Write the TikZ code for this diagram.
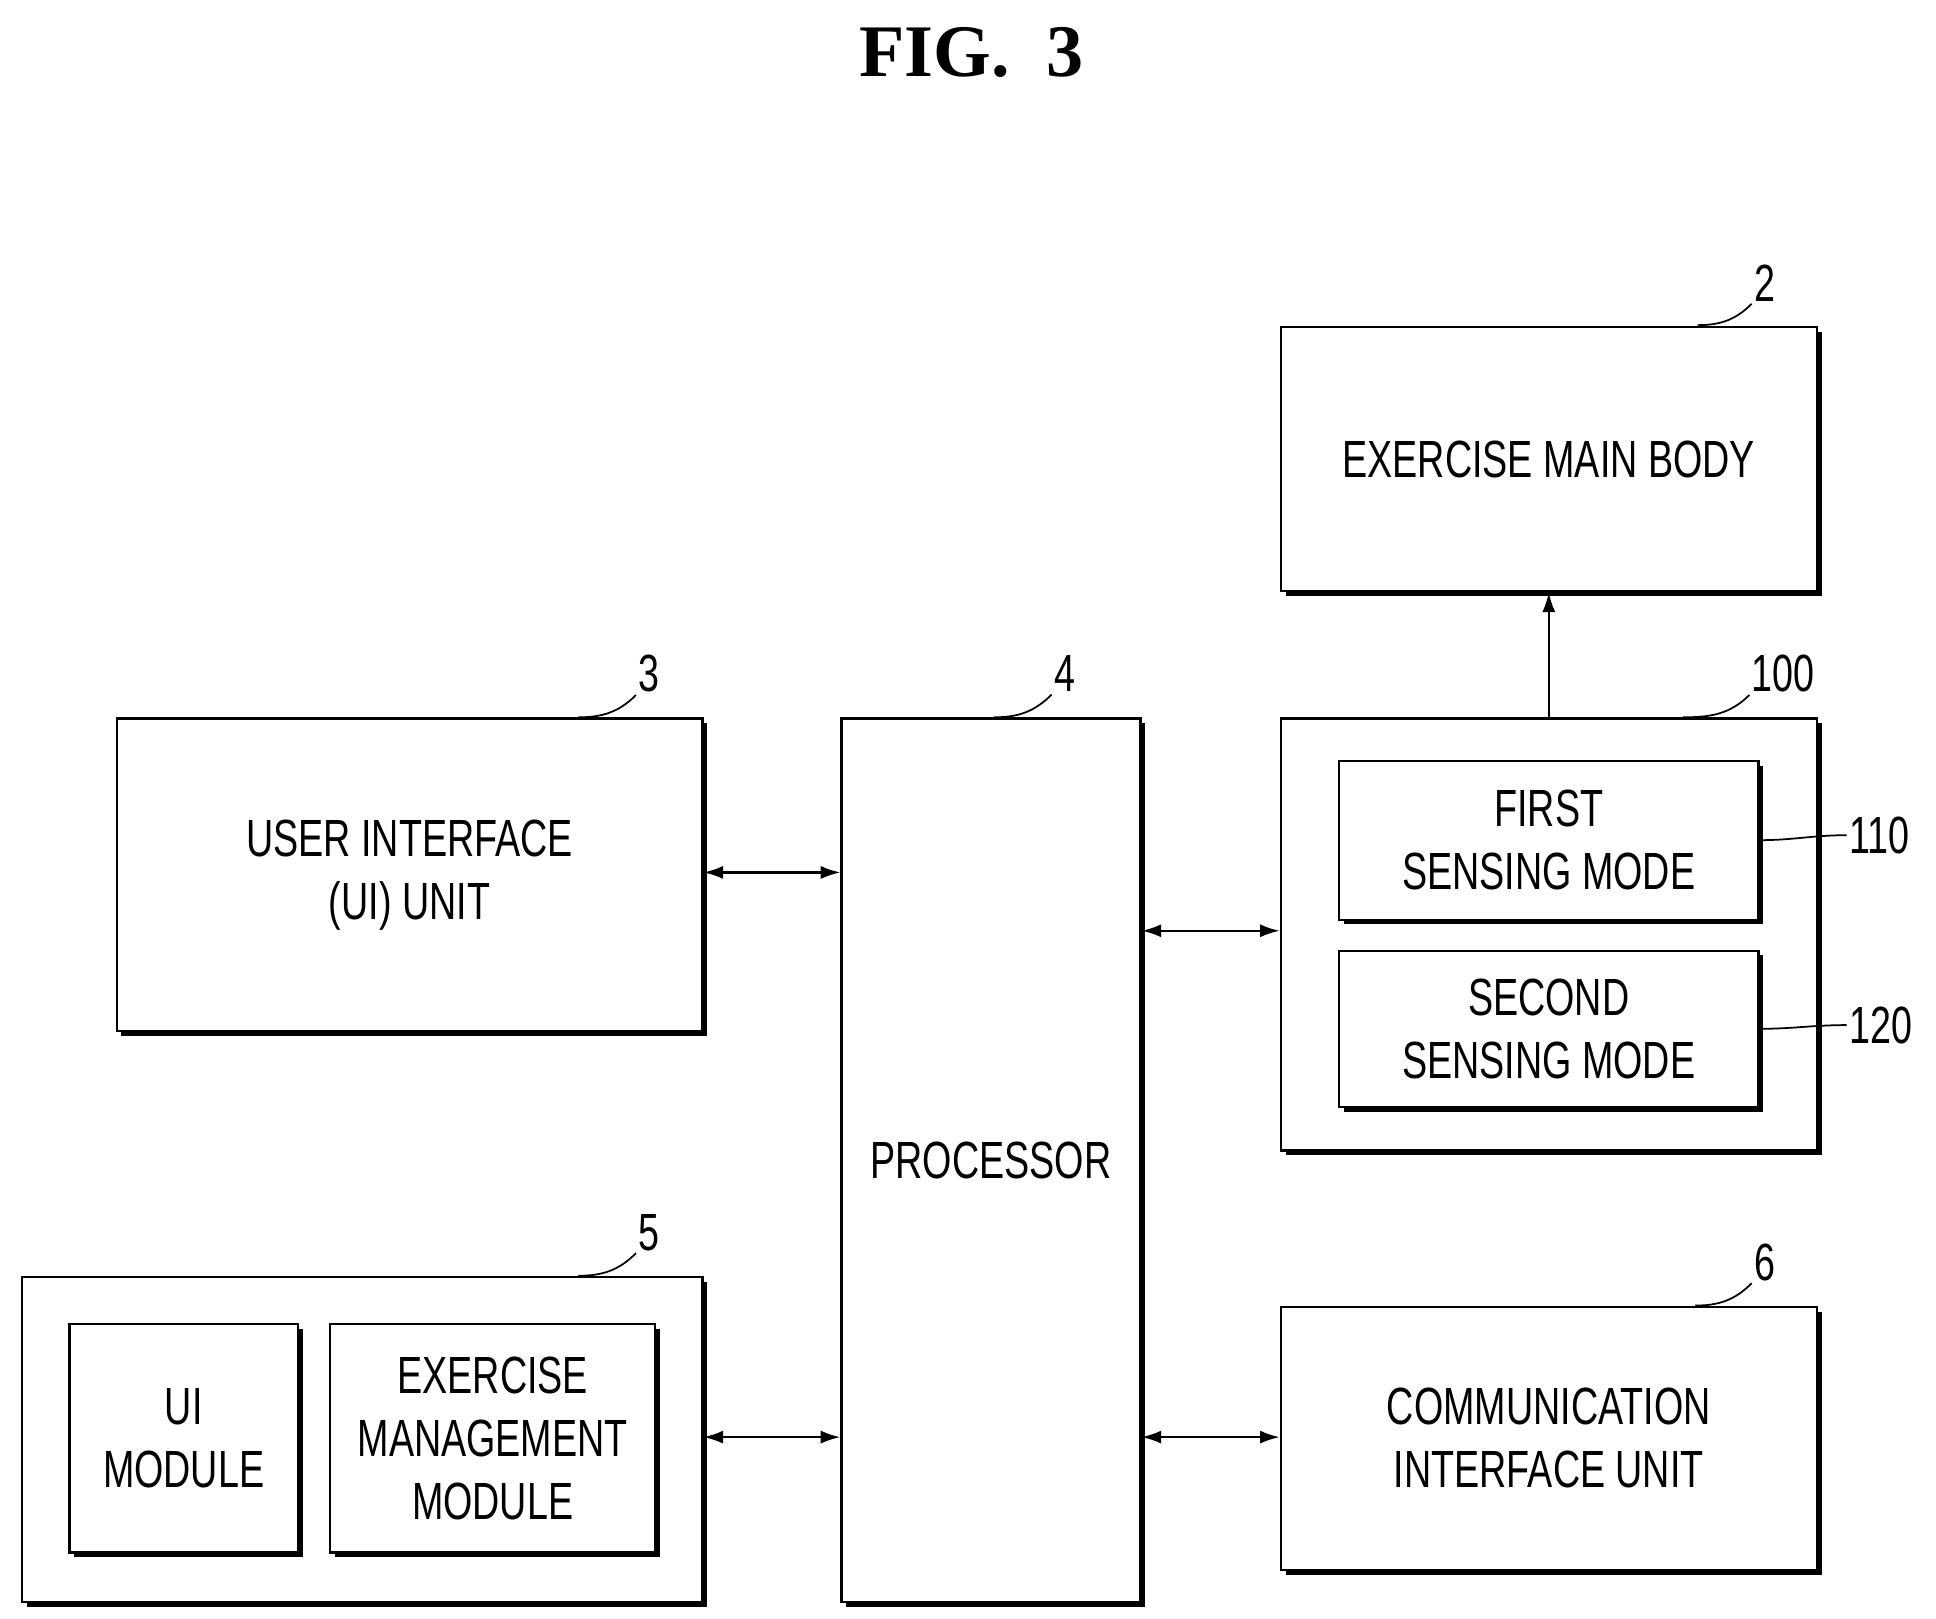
\documentclass[tikz,border=0pt]{standalone}
\usepackage{fontspec}
\setmainfont{Liberation Serif}
\setsansfont[FakeStretch=0.72]{Liberation Sans}
\usetikzlibrary{positioning,calc,shadows,arrows.meta}

\begin{document}
\begin{tikzpicture}[
      x=0.02cm, y=-0.02cm,
      font=\sffamily\fontsize{24}{29}\selectfont,
      box/.style={draw, line width=1pt, fill=white, align=center, inner sep=0pt,
        drop shadow={shadow xshift=2.2pt, shadow yshift=-2.2pt, fill=black, opacity=1}},
      tag/.style={inner sep=1pt},
      lead/.style={line width=0.8pt},
      link/.style={line width=1pt, {Latex[length=9pt,width=6pt]}-{Latex[length=9pt,width=6pt]}},
      >={Latex[length=9pt,width=6pt]}
    ]
    \useasboundingbox (0,0) rectangle (1560,1304);

    % title
    \node[font=\rmfamily\bfseries\fontsize{34}{40}\selectfont] (title) at (783,42) {FIG.\ \ 3};

    % boxes
    \node[box, minimum width=432*0.02cm, minimum height=213*0.02cm] (body) at (1248,370) {EXERCISE MAIN BODY};
    \node[box, minimum width=432*0.02cm, minimum height=348*0.02cm] (sens) at (1248,753) {};
    \node[box, minimum width=338*0.02cm, minimum height=128*0.02cm] (first) at (1248,677) {FIRST\\SENSING MODE};
    \node[box, minimum width=338*0.02cm, minimum height=126*0.02cm] (second) at (1248,829) {SECOND\\SENSING MODE};
    \node[box, minimum width=472*0.02cm, minimum height=252*0.02cm] (ui) at (330,705) {USER INTERFACE\\(UI) UNIT};
    \node[box, minimum width=241*0.02cm, minimum height=712*0.02cm] (proc) at (798.5,935) {PROCESSOR};
    \node[box, minimum width=548*0.02cm, minimum height=262*0.02cm] (mods) at (292,1160) {};
    \node[box, minimum width=184*0.02cm, minimum height=184*0.02cm] (uimod) at (148,1159) {UI\\MODULE};
    \node[box, minimum width=262*0.02cm, minimum height=184*0.02cm] (exmod) at (397,1159) {EXERCISE\\MANAGEMENT\\MODULE};
    \node[box, minimum width=432*0.02cm, minimum height=212*0.02cm] (comm) at (1248,1159) {COMMUNICATION\\INTERFACE UNIT};

    % reference numerals
    \node[tag] (n2) at (1422,228) {2};
    \node[tag] (n3) at (523,543) {3};
    \node[tag] (n4) at (858,543) {4};
    \node[tag] (n100) at (1437,543) {100};
    \node[tag] (n5) at (523,993) {5};
    \node[tag] (n6) at (1422,1017) {6};
    \node[tag, anchor=west] (n110) at (1488,673) {110};
    \node[tag, anchor=west] (n120) at (1488,826) {120};

    % leaders
    \draw[lead] (1368,262) to[out=0,in=225] (n2.south west);
    \draw[lead] (466,578) to[out=0,in=225] (n3.south west);
    \draw[lead] (801,578) to[out=0,in=225] (n4.south west);
    \draw[lead] (1356,578) to[out=0,in=225] (n100.south west);
    \draw[lead] (466,1028) to[out=0,in=225] (n5.south west);
    \draw[lead] (1366,1052) to[out=0,in=225] (n6.south west);
    \draw[lead] (first.east) to[out=0,in=180] (n110.west);
    \draw[lead] (second.east) to[out=0,in=180] (n120.west);

    % connectors
    \draw[link] (ui.east |- 0,703) -- (proc.west |- 0,703);
    \draw[link] (proc.east |- 0,750) -- (sens.west |- 0,750);
    \draw[link] (mods.east |- 0,1158) -- (proc.west |- 0,1158);
    \draw[link] (proc.east |- 0,1158) -- (comm.west |- 0,1158);
    \draw[->, line width=1pt] (sens.north) -- (body.south);
  \end{tikzpicture}
\end{document}
